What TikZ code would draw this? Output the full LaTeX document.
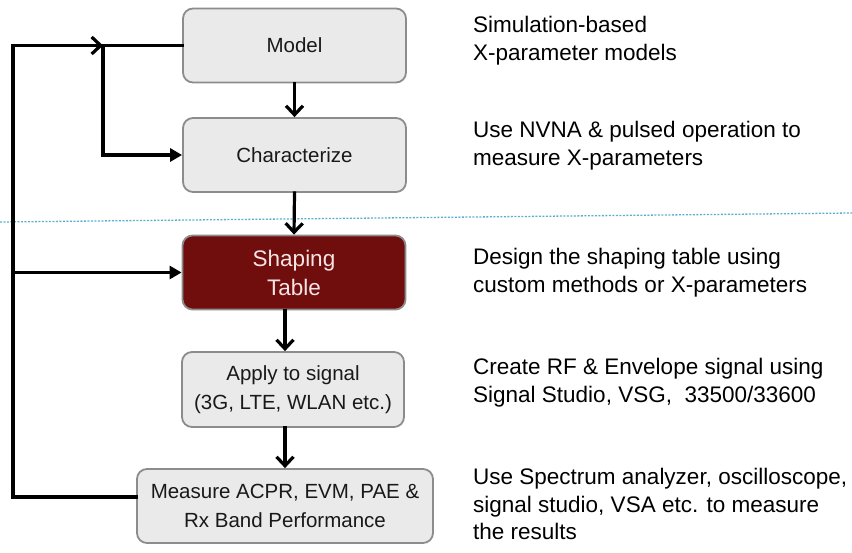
\documentclass[tikz,border=0pt]{standalone}
\usepackage{fontspec}
\setmainfont{Liberation Sans}
\usetikzlibrary{arrows.meta}

\definecolor{boxfill}{RGB}{234,234,234}
\definecolor{boxline}{RGB}{140,140,140}
\definecolor{shapered}{RGB}{112,14,14}
\definecolor{sepblue}{RGB}{90,175,205}

\begin{document}
\begin{tikzpicture}[x=1pt,y=-1pt,
    stepbox/.style={draw=boxline,line width=1.8pt,fill=boxfill,rounded corners=10pt,
      minimum width=223pt,minimum height=74pt,inner sep=0pt,align=center,
      text=black!90,font=\fontsize{20.5}{29}\selectfont},
    note/.style={anchor=north west,inner sep=0pt,align=left,
      font=\fontsize{22.5}{27.5}\selectfont},
    flow/.style={line width=3.2pt,line cap=rect},
    barb/.style={-{Straight Barb[length=9pt,width=17pt]}},
    tri/.style={-{Triangle[length=12pt,width=13pt]}}]
  \useasboundingbox (0,0) rectangle (852,552);

  % boxes
  \node[stepbox] (model) at (294.5,45.5) {Model};
  \node[stepbox] (charac) at (294.5,155) {Characterize};
  \node[stepbox,fill=shapered,text={rgb,255:red,248;green,228;blue,228},
    font=\fontsize{22.5}{29}\selectfont] (shaping) at (294,272.5) {Shaping\\Table};
  \node[stepbox,minimum width=222pt,minimum height=75pt] (apply) at (293,389.5) {Apply to signal\\(3G, LTE, WLAN etc.)};
  \node[stepbox,minimum width=296pt] (measure) at (285,506) {Measure ACPR, EVM, PAE \&\\Rx Band Performance};

  % separator
  \draw[sepblue,line width=1.3pt,dash pattern=on 2pt off 1.5pt] (0,222) -- (852,213);

  % notes
  \node[note] (note1) at (473,16) {Simulation-based\\X-parameter models};
  \node[note] (note2) at (473,121) {Use NVNA \& pulsed operation to\\measure X-parameters};
  \node[note] (note3) at (473,248) {Design the shaping table using\\custom methods or X-parameters};
  \node[note] (note4) at (473,358) {Create RF \& Envelope signal using\\Signal Studio, VSG,\ \ 33500/33600};
  \node[note] (note5) at (473,468) {Use Spectrum analyzer, oscilloscope,\\signal studio, VSA etc. to measure\\the results};

  % connectors
  \coordinate (loop) at (13,0);
  \coordinate (junc) at (103,45.5);
  \draw[flow,barb] (model.south) -- (charac.north);
  \draw[flow,barb] (charac.south) -- (shaping.north);
  \draw[flow,barb] (shaping.south -| measure.north) -- (apply.north -| measure.north);
  \draw[flow,barb] (apply.south -| measure.north) -- (measure.north);
  \draw[flow,barb] ([yshift=9pt]measure.west) -| (loop |- junc) -- (junc);
  \draw[flow,tri] (model.west) -- (junc) |- (charac.west);
  \draw[flow,tri] (loop |- shaping.west) -- (shaping.west);
\end{tikzpicture}
\end{document}
